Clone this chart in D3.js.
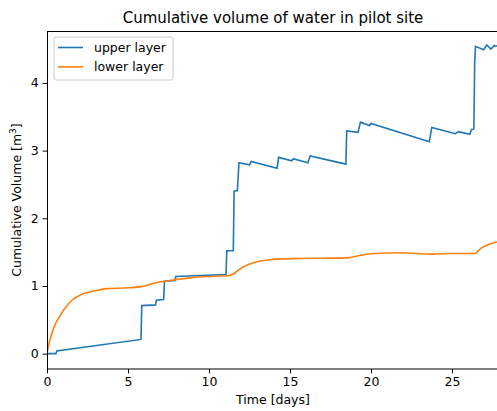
<!DOCTYPE html>
<html>
<head>
<meta charset="utf-8">
<script src="https://cdn.jsdelivr.net/npm/d3@7"></script>
<style>
  body { margin: 0; background: #fff; }
  svg { font-family: "DejaVu Sans", sans-serif; }
</style>
</head>
<body>
<div class="chart"></div>
<script>
// series: [day, m3]
var upperLayer = [
    [0, 0], [0.55, 0], [0.6, 0.04], [5.8, 0.21], [5.85, 0.71], [6.7, 0.72], [6.75, 0.79],
    [7.2, 0.80], [7.25, 1.07], [7.9, 1.08], [7.95, 1.14], [11.05, 1.17], [11.1, 1.52],
    [11.5, 1.52], [11.55, 2.40], [11.75, 2.41], [11.85, 2.82], [12.5, 2.79], [12.6, 2.84],
    [14.2, 2.74], [14.3, 2.90], [15.1, 2.85], [15.2, 2.88], [16.1, 2.82], [16.25, 2.92],
    [18.45, 2.80], [18.5, 3.29], [19.2, 3.27], [19.35, 3.42], [19.9, 3.37], [20.0, 3.40],
    [23.6, 3.13], [23.75, 3.34], [25.2, 3.25], [25.4, 3.28], [26.1, 3.24], [26.2, 3.31],
    [26.35, 3.32], [26.4, 4.30], [26.45, 4.54], [26.95, 4.49], [27.15, 4.56], [27.4, 4.50],
    [27.6, 4.55], [28, 4.54]
];
var lowerLayer = [
    [0, 0], [0.1, 0.12], [0.3, 0.3], [0.5, 0.43], [0.8, 0.56], [1.2, 0.70], [1.6, 0.80],
    [2.0, 0.86], [2.6, 0.91], [3.2, 0.94], [3.7, 0.96], [4.7, 0.97], [5.85, 0.99], [6.3, 1.02],
    [6.8, 1.05], [7.8, 1.09], [8.8, 1.12], [9.9, 1.14], [11.1, 1.15], [11.45, 1.17],
    [11.8, 1.23], [12.1, 1.28], [12.7, 1.34], [13.5, 1.38], [14.5, 1.40], [15.6, 1.405],
    [17, 1.41], [18.5, 1.415], [19.3, 1.45], [20.1, 1.48], [21.8, 1.49], [23.8, 1.47],
    [24.9, 1.48], [26.4, 1.48], [26.8, 1.56], [27.2, 1.61], [27.8, 1.65]
];
var seriesNames = ["upper layer", "lower layer"];
var seriesColors = ["#1f77b4", "#ff7f0e"];
var xTicks = [0, 5, 10, 15, 20, 25];
var yTicks = [0, 1, 2, 3, 4];

var margin = { top: 31, right: 0, bottom: 42, left: 47 },
    width = 497 - margin.left - margin.right,
    height = 411 - margin.top - margin.bottom;

var x = d3.scaleLinear()
    .domain([0, 28])
    .range([0, 28 * 16.2]);

var y = d3.scaleLinear()
    .domain([-0.227, 4.767])
    .range([height, 0]);

var svg = d3.select(".chart").append("svg")
    .attr("width", 497)
    .attr("height", 411);

var g = svg.append("g")
    .attr("transform", "translate(" + margin.left + "," + margin.top + ")");

g.append("clipPath").attr("id", "clip")
    .append("rect").attr("width", width).attr("height", height);

var line = d3.line()
    .x(function (d) { return x(d[0]); })
    .y(function (d) { return y(d[1]); });

var lines = [upperLayer, lowerLayer];
g.selectAll("path.series")
    .data(lines)
    .enter().append("path")
    .attr("class", "series")
    .attr("clip-path", "url(#clip)")
    .attr("fill", "none")
    .attr("stroke", function (d, i) { return seriesColors[i]; })
    .attr("stroke-width", 1.6)
    .attr("d", function (d, i) {
        return i === 1 ? line.curve(d3.curveMonotoneX)(d) : line.curve(d3.curveLinear)(d);
    });

// axes
var xAxis = g.append("g")
    .attr("transform", "translate(0," + height + ")")
    .call(d3.axisBottom(x).tickValues(xTicks).tickSize(4.4).tickPadding(4));
var yAxis = g.append("g")
    .call(d3.axisLeft(y).tickValues(yTicks).tickFormat(d3.format("d")).tickSize(4.4).tickPadding(4));

[xAxis, yAxis].forEach(function (a) {
    a.select(".domain").remove();
    a.selectAll("text").attr("font-size", 12.5).attr("fill", "#000")
        .attr("font-family", "DejaVu Sans, sans-serif");
    a.selectAll("line").attr("stroke", "#000");
});

// spines
g.append("line").attr("x1", 0).attr("x2", width).attr("y1", 0.5).attr("y2", 0.5)
    .attr("stroke", "#000");
g.append("line").attr("x1", 0).attr("x2", width).attr("y1", height).attr("y2", height)
    .attr("stroke", "#000");
g.append("line").attr("x1", 0.5).attr("x2", 0.5).attr("y1", 0).attr("y2", height)
    .attr("stroke", "#000");

// title and axis labels
svg.append("text")
    .attr("x", 273).attr("y", 23)
    .attr("text-anchor", "middle")
    .attr("font-size", 15)
    .text("Cumulative volume of water in pilot site");

svg.append("text")
    .attr("x", 273).attr("y", 404)
    .attr("text-anchor", "middle")
    .attr("font-size", 12.5)
    .text("Time [days]");

var yl = svg.append("text")
    .attr("transform", "translate(21," + (margin.top + height / 2) + ") rotate(-90)")
    .attr("text-anchor", "middle")
    .attr("font-size", 12.5);
yl.append("tspan").text("Cumulative Volume [m");
yl.append("tspan").attr("dy", -5).attr("font-size", 9).text("3");
yl.append("tspan").attr("dy", 5).text("]");

// legend
var legend = g.append("g").attr("transform", "translate(7,6)");
legend.append("rect")
    .attr("width", 119).attr("height", 43).attr("rx", 2)
    .attr("fill", "#fff").attr("fill-opacity", 0.8)
    .attr("stroke", "#ccc");
var items = legend.selectAll("g.item")
    .data(seriesNames)
    .enter().append("g")
    .attr("class", "item")
    .attr("transform", function (d, i) { return "translate(0," + (10.5 + i * 19.4) + ")"; });
items.append("line")
    .attr("x1", 4).attr("x2", 29)
    .attr("stroke", function (d, i) { return seriesColors[i]; })
    .attr("stroke-width", 1.6);
items.append("text")
    .attr("x", 40).attr("dy", "0.35em")
    .attr("font-size", 12.5)
    .text(function (d) { return d; });
</script>
</body>
</html>
